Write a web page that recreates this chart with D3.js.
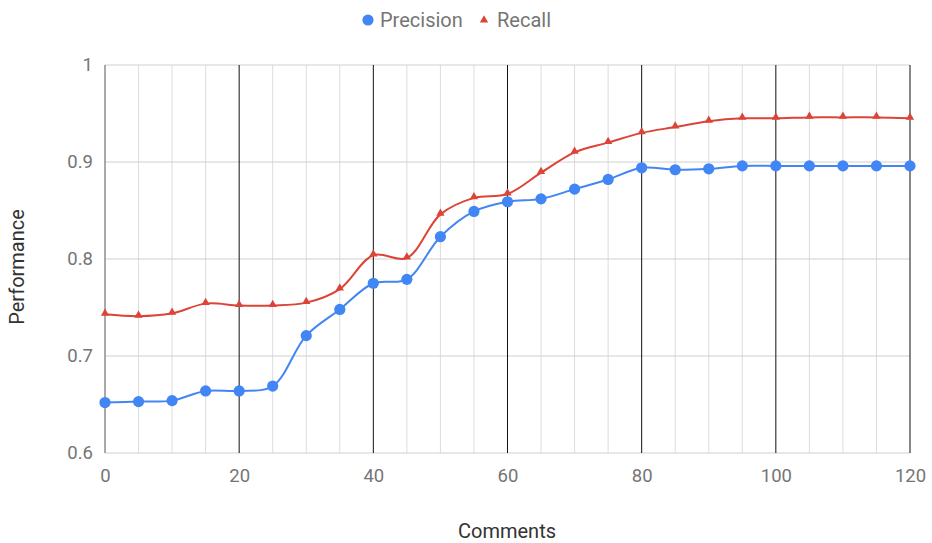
<!DOCTYPE html>
<html><head><meta charset="utf-8">
<script src="https://cdn.jsdelivr.net/npm/d3@7"></script>
<style>body{margin:0;background:#fff;} text{font-family:Roboto, sans-serif;}</style>
</head><body>
<svg id="c" width="932" height="543"></svg>
<script>
const comments = [0,5,10,15,20,25,30,35,40,45,50,55,60,65,70,75,80,85,90,95,100,105,110,115,120];
const precision = [0.652,0.653,0.654,0.664,0.664,0.669,0.721,0.748,0.775,0.779,0.823,0.849,0.859,0.862,0.872,0.882,0.894,0.892,0.893,0.896,0.896,0.896,0.896,0.896,0.896];
const recall = [0.743,0.741,0.744,0.754,0.752,0.752,0.755,0.769,0.804,0.801,0.846,0.863,0.867,0.889,0.910,0.920,0.930,0.936,0.942,0.945,0.945,0.946,0.946,0.946,0.945];
const xTicks = [0,20,40,60,80,100,120];
const yTicks = [0.6,0.7,0.8,0.9,1];

const svg = d3.select("#c");
const L=105, R=910, T=65, B=453;
const x = d3.scaleLinear().domain([0,120]).range([L,R]);
const y = d3.scaleLinear().domain([0.6,1]).range([B,T]);
const textColor = "#757575";

// minor vertical grid
svg.append("g").selectAll("line").data(d3.range(0,121,5).filter(v=>v%20!==0))
  .join("line").attr("x1",d=>x(d)).attr("x2",d=>x(d)).attr("y1",T).attr("y2",B)
  .attr("stroke","#dcdcdc").attr("stroke-width",1);
// horizontal grid
svg.append("g").selectAll("line").data(yTicks)
  .join("line").attr("x1",L).attr("x2",R).attr("y1",d=>y(d)).attr("y2",d=>y(d))
  .attr("stroke","#d0d0d0").attr("stroke-width",1);
// major vertical lines
svg.append("g").selectAll("line").data(xTicks)
  .join("line").attr("x1",d=>x(d)).attr("x2",d=>x(d)).attr("y1",T).attr("y2",B)
  .attr("stroke",d=>d===0?"#555":"#111").attr("stroke-width",1);

// axes labels via d3 axes
const xAxis = svg.append("g").attr("transform",`translate(0,${B})`)
  .call(d3.axisBottom(x).tickValues(xTicks).tickSize(0).tickPadding(16).tickFormat(d3.format("d")));
xAxis.select(".domain").remove();
xAxis.selectAll("text").attr("fill",textColor).style("font-size","18.5px").style("font-family","Roboto");
const yAxis = svg.append("g").attr("transform",`translate(${L},0)`)
  .call(d3.axisLeft(y).tickValues(yTicks).tickSize(0).tickPadding(12).tickFormat(d=>d===1?"1":d3.format(".1f")(d)));
yAxis.select(".domain").remove();
yAxis.selectAll("text").attr("fill",textColor).style("font-size","18.5px").style("font-family","Roboto");

svg.append("text").attr("x",507).attr("y",538).attr("text-anchor","middle")
  .attr("fill","#333").style("font-size","20px").text("Comments");
svg.append("text").attr("transform","translate(24,267) rotate(-90)").attr("text-anchor","middle")
  .attr("fill","#333").style("font-size","20px").text("Performance");

const line = d3.line().x((d,i)=>x(comments[i])).y(d=>y(d)).curve(d3.curveCatmullRom.alpha(0.5));
const blue="#4285f4", red="#db4437";
svg.append("path").attr("d",line(recall)).attr("fill","none").attr("stroke",red).attr("stroke-width",2);
svg.append("path").attr("d",line(precision)).attr("fill","none").attr("stroke",blue).attr("stroke-width",2);

const tri = d3.symbol().type(d3.symbolTriangle).size(30);
svg.append("g").selectAll("path").data(recall).join("path")
  .attr("d",tri).attr("transform",(d,i)=>`translate(${x(comments[i])},${y(d)-1})`).attr("fill",red);
svg.append("g").selectAll("circle").data(precision).join("circle")
  .attr("cx",(d,i)=>x(comments[i])).attr("cy",d=>y(d)).attr("r",5.6).attr("fill",blue);

// legend
const lg = svg.append("g");
lg.append("circle").attr("cx",368).attr("cy",20).attr("r",5.6).attr("fill",blue);
lg.append("text").attr("x",380).attr("y",27).attr("fill",textColor).style("font-size","20px").text("Precision");
lg.append("path").attr("d",tri).attr("transform","translate(484,20)").attr("fill",red);
lg.append("text").attr("x",497).attr("y",27).attr("fill",textColor).style("font-size","20px").text("Recall");
</script>
</body></html>
